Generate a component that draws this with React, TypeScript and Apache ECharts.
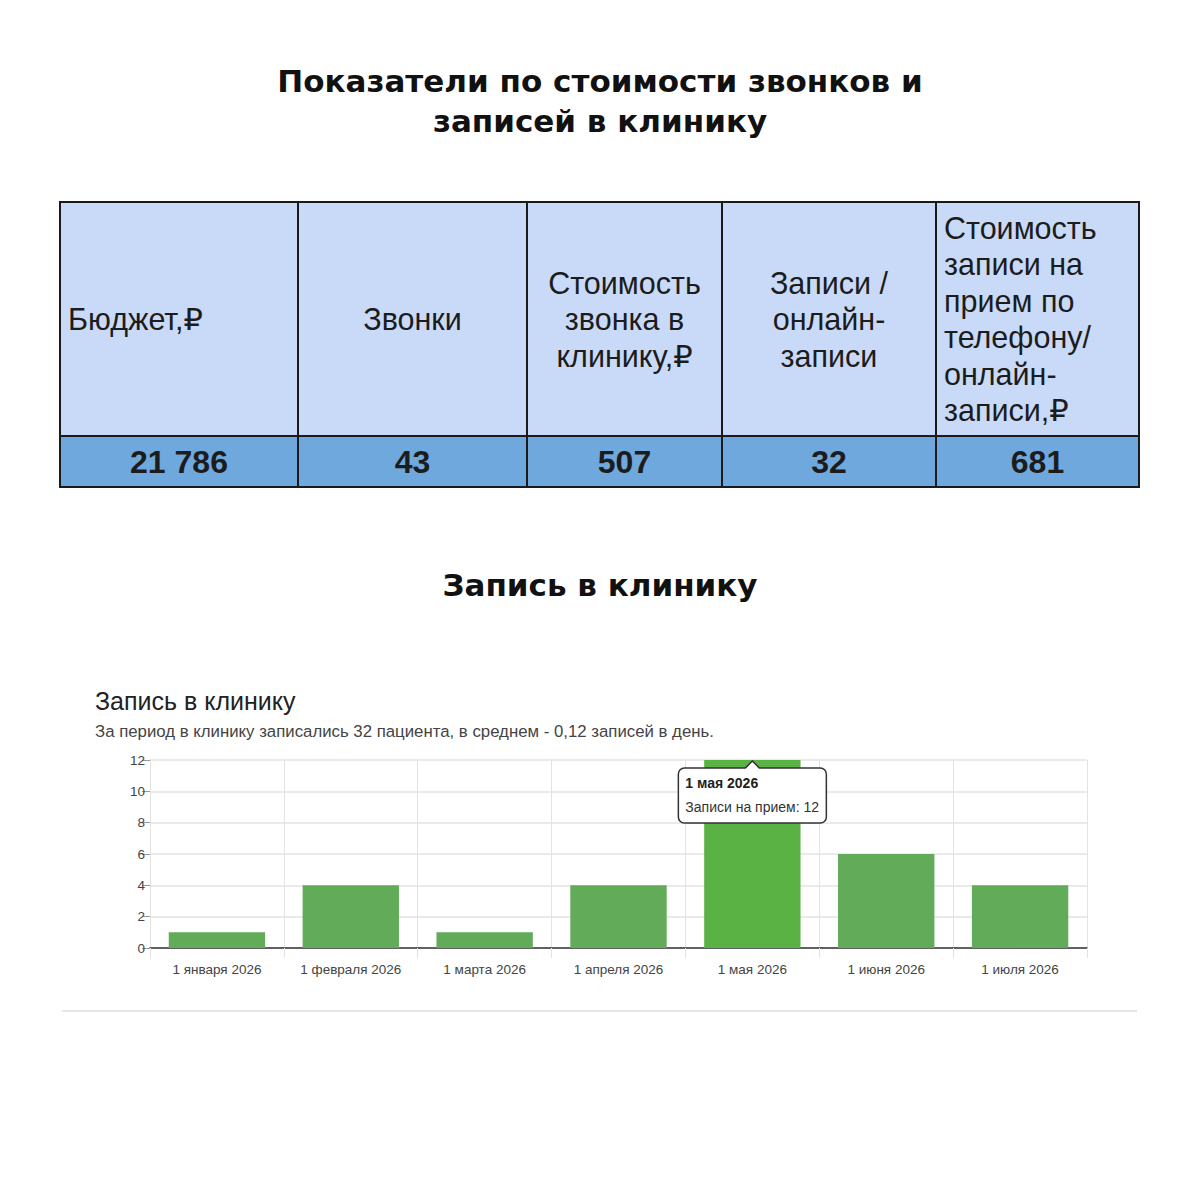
import React, { useEffect, useRef } from "react";
import * as echarts from "echarts";

// ---- data ----
const pageTitleLines = ["Показатели по стоимости звонков и", "записей в клинику"];
const sectionTitle = "Запись в клинику";
const tableHeaders = [
  ["Бюджет,₽"],
  ["Звонки"],
  ["Стоимость", "звонка в", "клинику,₽"],
  ["Записи /", "онлайн-", "записи"],
  ["Стоимость", "записи на", "прием по", "телефону/", "онлайн-", "записи,₽"],
];
const tableValues = ["21 786", "43", "507", "32", "681"];
const chartTitle = "Запись в клинику";
const chartSubtitle = "За период в клинику записались 32 пациента, в среднем - 0,12 записей в день.";
const categories = [
  "1 января 2026",
  "1 февраля 2026",
  "1 марта 2026",
  "1 апреля 2026",
  "1 мая 2026",
  "1 июня 2026",
  "1 июля 2026",
];
const appointments = [1, 4, 1, 4, 12, 6, 4];
const seriesName = "Записи на прием";
const highlightedIndex = 4;
const yMin = 0;
const yMax = 12;
const yInterval = 2;

// ---- layout ----
const colEdges = [60, 298, 527, 722, 936, 1139];
const colAlign = ["left", "center", "center", "center", "left"];
const headTop = 202;
const headBottom = 436;
const rowBottom = 487;
const TABLE_FONT = "'Liberation Sans', Arial, 'DejaVu Sans', sans-serif";
const CHART_FONT = "'Liberation Sans', Arial, 'DejaVu Sans', sans-serif";
const TITLE_FONT = "'DejaVu Sans', sans-serif";

function buildStaticGraphics(): any[] {
  const g: any[] = [];
  pageTitleLines.forEach((line, i) => {
    g.push({
      type: "text",
      id: "pageTitle" + i,
      x: 600,
      y: 81 + i * 40,
      style: {
        text: line,
        font: `700 31px ${TITLE_FONT}`,
        fill: "#111",
        align: "center",
        verticalAlign: "middle",
        lineHeight: 36,
      },
    });
  });
  for (let i = 0; i < 5; i++) {
    const x0 = colEdges[i];
    const x1 = colEdges[i + 1];
    g.push({
      type: "rect",
      id: "hcell" + i,
      shape: { x: x0, y: headTop, width: x1 - x0, height: headBottom - headTop },
      style: { fill: "#c9daf8", stroke: "#1a1a1a", lineWidth: 2 },
    });
    g.push({
      type: "rect",
      id: "vcell" + i,
      shape: { x: x0, y: headBottom, width: x1 - x0, height: rowBottom - headBottom },
      style: { fill: "#6fa8dc", stroke: "#1a1a1a", lineWidth: 2 },
    });
    const align = colAlign[i];
    const tx = align === "left" ? x0 + 8 : (x0 + x1) / 2;
    g.push({
      type: "text",
      id: "htext" + i,
      x: tx,
      y: (headTop + headBottom) / 2,
      style: {
        text: tableHeaders[i].join("\n"),
        font: `400 30.5px ${TABLE_FONT}`,
        fill: "#1c1c1c",
        align,
        verticalAlign: "middle",
        lineHeight: 36.5,
      },
    });
    g.push({
      type: "text",
      id: "vtext" + i,
      x: (x0 + x1) / 2,
      y: (headBottom + rowBottom) / 2,
      style: {
        text: tableValues[i],
        font: `700 32px ${TABLE_FONT}`,
        fill: "#1c1c1c",
        align: "center",
        verticalAlign: "middle",
      },
    });
  }
  g.push({
    type: "text",
    id: "sectionTitle",
    x: 600,
    y: 585,
    style: {
      text: sectionTitle,
      font: `700 31px ${TITLE_FONT}`,
      fill: "#111",
      align: "center",
      verticalAlign: "middle",
    },
  });
  g.push({
    type: "text",
    id: "chartTitle",
    x: 95,
    y: 701,
    style: {
      text: chartTitle,
      font: `400 25px ${CHART_FONT}`,
      fill: "#222",
      align: "left",
      verticalAlign: "middle",
    },
  });
  g.push({
    type: "text",
    id: "chartSubtitle",
    x: 95,
    y: 731,
    style: {
      text: chartSubtitle,
      font: `400 16.8px ${CHART_FONT}`,
      fill: "#444",
      align: "left",
      verticalAlign: "middle",
    },
  });
  g.push({
    type: "rect",
    id: "sep",
    shape: { x: 62, y: 1010, width: 1075, height: 2 },
    style: { fill: "#e6e6e6" },
  });
  return g;
}

export default function App() {
  const ref = useRef<HTMLDivElement>(null);
  useEffect(() => {
    if (!ref.current) return;
    document.body.style.margin = "0";
    const chart = echarts.init(ref.current, null, { renderer: "svg" });
    const staticGraphics = buildStaticGraphics();
    const option: any = {
      animation: false,
      backgroundColor: "#ffffff",
      grid: { left: 150, right: 113, top: 760, bottom: 252, containLabel: false },
      xAxis: {
        type: "category",
        data: categories,
        axisLine: { show: true, lineStyle: { color: "#333", width: 1.5 } },
        axisTick: {
          show: true,
          interval: 0,
          alignWithLabel: false,
          length: 10,
          lineStyle: { color: "#e3e3e3" },
        },
        axisLabel: {
          interval: 0,
          color: "#444",
          fontSize: 13.5,
          fontFamily: CHART_FONT,
          margin: 14,
        },
        splitLine: { show: true, interval: 0, lineStyle: { color: "#e3e3e3", width: 1 } },
      },
      yAxis: {
        type: "value",
        min: yMin,
        max: yMax,
        interval: yInterval,
        axisLine: { show: false },
        axisTick: { show: true, length: 8, lineStyle: { color: "#999" } },
        axisLabel: { color: "#444", fontSize: 13.5, fontFamily: CHART_FONT, margin: 5 },
        splitLine: { show: true, lineStyle: { color: "#e3e3e3", width: 1.5 } },
      },
      series: [
        {
          type: "bar",
          name: seriesName,
          barCategoryGap: "28%",
          data: appointments.map((v, i) =>
            i === highlightedIndex ? { value: v, itemStyle: { color: "#5bb244" } } : v
          ),
          itemStyle: { color: "#62ab58" },
        },
      ],
      graphic: staticGraphics,
    };
    chart.setOption(option);

    const [px, py] = chart.convertToPixel({ xAxisIndex: 0, yAxisIndex: 0 }, [
      highlightedIndex,
      appointments[highlightedIndex],
    ]) as number[];
    const boxW = 148;
    const boxH = 55;
    const boxX = px - boxW / 2;
    const boxY = py + 8;
    const tipGraphics: any[] = [
      {
        type: "rect",
        id: "tipBox",
        shape: { x: boxX, y: boxY, width: boxW, height: boxH, r: 6 },
        style: { fill: "#fff", stroke: "#333", lineWidth: 1.5 },
        z: 200,
      },
      {
        type: "polygon",
        id: "tipArrowFill",
        shape: { points: [[px - 7, boxY + 1], [px, boxY - 7], [px + 7, boxY + 1]] },
        style: { fill: "#fff" },
        z: 201,
      },
      {
        type: "polyline",
        id: "tipArrowLine",
        shape: { points: [[px - 7, boxY], [px, boxY - 7], [px + 7, boxY]] },
        style: { stroke: "#333", lineWidth: 1.5, fill: null },
        z: 202,
      },
      {
        type: "text",
        id: "tipTitle",
        x: boxX + 7,
        y: boxY + 15,
        z: 203,
        style: {
          text: categories[highlightedIndex],
          font: `700 14px ${CHART_FONT}`,
          fill: "#222",
          align: "left",
          verticalAlign: "middle",
        },
      },
      {
        type: "text",
        id: "tipBody",
        x: boxX + 7,
        y: boxY + 39,
        z: 203,
        style: {
          text: `${seriesName}: ${appointments[highlightedIndex]}`,
          font: `400 14px ${CHART_FONT}`,
          fill: "#333",
          align: "left",
          verticalAlign: "middle",
        },
      },
    ];
    chart.setOption({ graphic: [...staticGraphics, ...tipGraphics] });
    return () => chart.dispose();
  }, []);
  return (
    <div
      ref={ref}
      style={{ position: "absolute", left: 0, top: 0, width: 1200, height: 1200 }}
    />
  );
}
